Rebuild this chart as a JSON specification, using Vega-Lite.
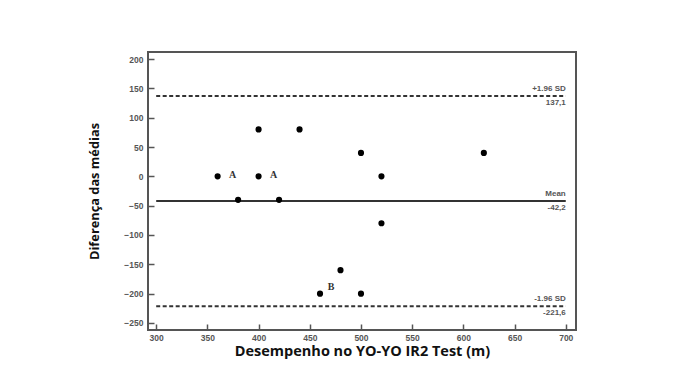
{
  "$schema": "https://vega.github.io/schema/vega-lite/v6.json",
  "width": 428,
  "height": 278,
  "autosize": "none",
  "padding": {"left": 148, "top": 52, "right": 107, "bottom": 35},
  "background": "white",
  "config": {
    "view": {"stroke": "#555555", "strokeWidth": 2},
    "axis": {
      "domain": false,
      "grid": false,
      "tickColor": "#555555",
      "tickWidth": 1.5,
      "tickSize": 6,
      "offset": -6,
      "labelFont": "Liberation Sans",
      "labelFontWeight": "bold",
      "labelFontSize": 8.5,
      "labelColor": "#555555",
      "titleFont": "Open Sans",
      "titleFontWeight": "bold",
      "titleColor": "#111111"
    }
  },
  "datasets": {
    "points": [
      {"performance": 360, "difference": 0, "mark": "A"},
      {"performance": 380, "difference": -40, "mark": ""},
      {"performance": 400, "difference": 80, "mark": ""},
      {"performance": 400, "difference": 0, "mark": "A"},
      {"performance": 420, "difference": -40, "mark": ""},
      {"performance": 440, "difference": 80, "mark": ""},
      {"performance": 460, "difference": -200, "mark": "B"},
      {"performance": 480, "difference": -160, "mark": ""},
      {"performance": 500, "difference": 40, "mark": ""},
      {"performance": 500, "difference": -200, "mark": ""},
      {"performance": 520, "difference": 0, "mark": ""},
      {"performance": 520, "difference": -80, "mark": ""},
      {"performance": 620, "difference": 40, "mark": ""}
    ],
    "lines": [
      {"name": "+1.96 SD", "value": 137.1, "text": "137,1", "kind": "dashed"},
      {"name": "Mean", "value": -42.2, "text": "-42,2", "kind": "solid"},
      {"name": "-1.96 SD", "value": -221.6, "text": "-221,6", "kind": "dashed"}
    ]
  },
  "encoding": {
    "x": {
      "type": "quantitative",
      "scale": {"domain": [292, 710], "nice": false, "zero": false},
      "axis": {"values": [300, 350, 400, 450, 500, 550, 600, 650, 700], "title": "Desempenho no YO-YO IR2 Test (m)", "titleFontSize": 14.5, "labelPadding": 3, "titlePadding": 3}
    },
    "y": {
      "type": "quantitative",
      "scale": {"domain": [-262, 212], "nice": false, "zero": false},
      "axis": {"values": [-250, -200, -150, -100, -50, 0, 50, 100, 150, 200], "title": "Diferença das médias", "titleFontSize": 12.8, "labelPadding": 5, "titlePadding": 22}
    }
  },
  "layer": [
    {
      "data": {"name": "lines"},
      "transform": [{"filter": "datum.kind === 'dashed'"}],
      "mark": {"type": "rule", "color": "#333333", "strokeWidth": 2, "strokeDash": [4, 2.5]},
      "encoding": {
        "x": {"datum": 300},
        "x2": {"datum": 700},
        "y": {"field": "value"}
      }
    },
    {
      "data": {"name": "lines"},
      "transform": [{"filter": "datum.kind === 'solid'"}],
      "mark": {"type": "rule", "color": "#333333", "strokeWidth": 2},
      "encoding": {
        "x": {"datum": 300},
        "x2": {"datum": 700},
        "y": {"field": "value"}
      }
    },
    {
      "data": {"name": "lines"},
      "mark": {"type": "text", "align": "right", "baseline": "bottom", "dy": -3, "font": "Liberation Sans", "fontWeight": "bold", "fontSize": 8, "color": "#555555"},
      "encoding": {
        "x": {"datum": 700},
        "y": {"field": "value"},
        "text": {"field": "name"}
      }
    },
    {
      "data": {"name": "lines"},
      "mark": {"type": "text", "align": "right", "baseline": "top", "dy": 3, "font": "Liberation Sans", "fontWeight": "bold", "fontSize": 8, "color": "#555555"},
      "encoding": {
        "x": {"datum": 700},
        "y": {"field": "value"},
        "text": {"field": "text"}
      }
    },
    {
      "data": {"name": "points"},
      "mark": {"type": "circle", "color": "#000000", "opacity": 1, "size": 38},
      "encoding": {
        "x": {"field": "performance"},
        "y": {"field": "difference"}
      }
    },
    {
      "data": {"name": "points"},
      "transform": [{"filter": "datum.mark === 'A'"}],
      "mark": {"type": "text", "align": "center", "baseline": "middle", "dx": 15, "dy": -1, "font": "Liberation Serif", "fontWeight": "bold", "fontSize": 10, "color": "#333333"},
      "encoding": {
        "x": {"field": "performance"},
        "y": {"field": "difference"},
        "text": {"field": "mark"}
      }
    },
    {
      "data": {"name": "points"},
      "transform": [{"filter": "datum.mark === 'B'"}],
      "mark": {"type": "text", "align": "center", "baseline": "middle", "dx": 11, "dy": -7, "font": "Liberation Serif", "fontWeight": "bold", "fontSize": 10, "color": "#333333"},
      "encoding": {
        "x": {"field": "performance"},
        "y": {"field": "difference"},
        "text": {"field": "mark"}
      }
    }
  ]
}
